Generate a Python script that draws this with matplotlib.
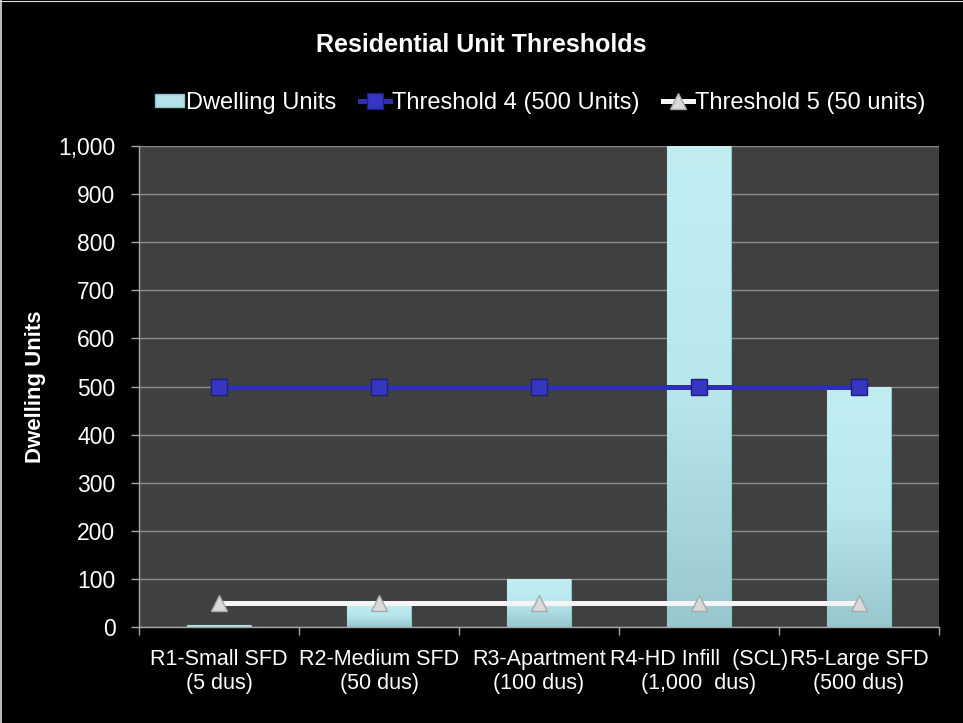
import matplotlib
matplotlib.use("Agg")
import matplotlib.pyplot as plt
import numpy as np
from matplotlib.ticker import FuncFormatter, FixedLocator
from matplotlib.patches import Patch
from matplotlib.lines import Line2D
from matplotlib.colors import LinearSegmentedColormap

plt.rcParams['font.family'] = ['Liberation Sans', 'DejaVu Sans']

categories = ["R1-Small SFD\n(5 dus)", "R2-Medium SFD\n(50 dus)", "R3-Apartment\n(100 dus)",
              "R4-HD Infill  (SCL)\n(1,000  dus)", "R5-Large SFD\n(500 dus)"]
dwelling_units = [5, 50, 100, 1000, 500]
threshold4 = [500, 500, 500, 500, 500]
threshold5 = [50, 50, 50, 50, 50]

fig = plt.figure(figsize=(9.63, 7.23), dpi=100, facecolor='black')
ax = fig.add_axes([139/963, 1-627/723, 800/963, 481/723])
ax.set_facecolor('#404040')

x = np.arange(len(categories))
bars = ax.bar(x, dwelling_units, width=0.40, color='#B4E2E7', edgecolor='#8FC3C8',
              linewidth=0.8, zorder=2, label='Dwelling Units')
grad = np.linspace(0, 1, 256).reshape(-1, 1)
cmap = LinearSegmentedColormap.from_list('g', ['#98C8CD', '#B8E8EC', '#C2EEF2'])
for b in bars:
    bx, by = b.get_x(), b.get_y()
    w, h = b.get_width(), b.get_height()
    im = ax.imshow(grad, cmap=cmap, aspect='auto', origin='lower',
                   extent=[bx, bx + w, by, by + h], zorder=2.1)
    im.set_clip_path(b)

t4_style = dict(color='#2F2FB4', lw=3.6, marker='s', markersize=11,
                markerfacecolor='#3636C0', markeredgecolor='#1E1E80')
t5_style = dict(color='#F4F4F4', lw=3.6, marker='^', markersize=12,
                markerfacecolor='#DADADA', markeredgecolor='#A8A8A8')
ax.plot(x, threshold4, zorder=3, **t4_style)
ax.plot(x, threshold5, zorder=3, **t5_style)

ax.set_xlim(-0.5, len(categories) - 0.5)
ax.set_ylim(0, 1000)
ax.set_yticks(np.arange(0, 1001, 100))
ax.yaxis.set_major_formatter(FuncFormatter(lambda v, p: f"{int(v):,}"))
ax.grid(axis='y', color='#8C8C8C', lw=1, zorder=1)
ax.set_axisbelow(True)

ax.xaxis.set_major_locator(FixedLocator(np.arange(-0.5, len(categories), 1.0)))
ax.xaxis.set_minor_locator(FixedLocator(x))
ax.set_xticklabels([''] * (len(categories) + 1))
ax.set_xticklabels(categories, minor=True)
ax.tick_params(axis='x', which='minor', length=0, colors='white', labelsize=15.5, pad=16)
ax.tick_params(axis='x', which='major', length=6, color='#A6A6A6', width=1)
ax.tick_params(axis='y', length=6, color='#A6A6A6', width=1, labelcolor='white', labelsize=16.5, pad=11)
for lab in ax.get_xticklabels(minor=True):
    lab.set_multialignment('center')
    lab.set_linespacing(1.2)

for s in ['top', 'right']:
    ax.spines[s].set_visible(False)
for s in ['left', 'bottom']:
    ax.spines[s].set_color('#A6A6A6')
    ax.spines[s].set_linewidth(1)

fig.text(35/963, 1-387/723, 'Dwelling Units', color='white', fontsize=16, fontweight='bold',
         rotation=90, ha='center', va='center')

fig.text(0.5, 1-45/723, 'Residential Unit Thresholds', color='white', fontsize=18,
         fontweight='bold', ha='center', va='center')

handles = [Patch(facecolor='#B4E2E7', edgecolor='#8FC3C8'),
           Line2D([], [], **t4_style),
           Line2D([], [], **t5_style)]
labels = ['Dwelling Units', 'Threshold 4 (500 Units)', 'Threshold 5 (50 units)']
leg = fig.legend(handles, labels, loc='center', bbox_to_anchor=(540/963, 1-103/723), ncol=3,
                 frameon=False, prop={'size': 17},
                 labelcolor='white', handlelength=1.25, handletextpad=0.1,
                 columnspacing=1.0, handleheight=0.5)

# thin light edge on the left and top of the image, as in the reference
fig.lines.append(Line2D([0.001, 0.001], [0, 1], transform=fig.transFigure,
                        color='#E0E0E0', lw=1.2))
fig.lines.append(Line2D([0, 1], [0.999, 0.999], transform=fig.transFigure,
                        color='#E0E0E0', lw=0.8))

fig.savefig('out.png', dpi=100, facecolor='black')
